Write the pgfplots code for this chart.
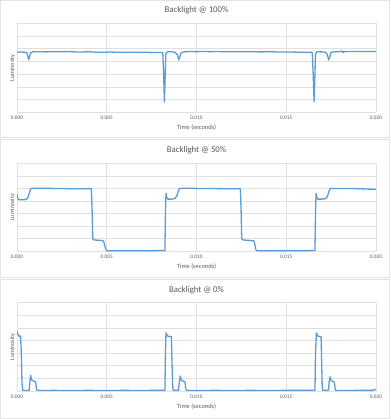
\documentclass[border=0pt]{standalone}
\usepackage{fontspec}
\setmainfont{Carlito}
\usepackage{pgfplots}
\pgfplotsset{compat=1.18}
\definecolor{txt}{HTML}{595959}
\definecolor{grd}{HTML}{E0E0E0}
\definecolor{frm}{HTML}{E3E3E3}
\definecolor{ln}{HTML}{5B9BD5}
\pgfplotsset{
  panel/.style={
    width=359pt, scale only axis,
    xmin=0, xmax=0.02, ymin=0, ymax=7,
    xtick={0,0.005,0.01,0.015,0.02},
    ytick={0,1,2,3,4,5,6,7},
    yticklabels={},
    grid=major,
    grid style={grd, line width=0.55pt},
    axis line style={draw=none},
    major tick length=0pt,
    scaled x ticks=false,
    every axis title shift=0pt,
    xticklabel style={/pgf/number format/.cd, fixed, fixed zerofill, precision=3, /pgf/number format/assume math mode=true, /tikz/.cd, font=\fontsize{5.3}{6}\selectfont, text=txt, anchor=north, inner sep=0pt, yshift=-3.8pt},
    xlabel={Time (seconds)},
    xlabel style={at={(axis description cs:0.5,0)}, anchor=center, yshift=-15.8pt, font=\fontsize{6.4}{7}\selectfont, text=txt},
    ylabel={Luminosity},
    ylabel style={at={(axis description cs:-0.0125,0.5)}, anchor=center, font=\fontsize{6}{7}\selectfont, text=txt},
    title style={at={(axis description cs:0.5,1)}, anchor=center, yshift=12.7pt, font=\fontsize{8.8}{10}\selectfont, text=txt},
  },
  sig/.style={draw=ln, line width=1.3pt, mark=none, line join=round},
}
\begin{document}
\begin{tikzpicture}[x=1pt,y=1pt]
\path[use as bounding box] (0,0) rectangle (390,419);
\draw[frm, line width=0.6pt] (0.5,281.5) rectangle (389.5,418.5);
\draw[frm, line width=0.6pt] (0.5,141.5) rectangle (389.5,279.5);
\draw[frm, line width=0.6pt] (0.5,0.5) rectangle (389.5,139.5);

\begin{axis}[panel, at={(17pt,306.7pt)}, anchor=south west, height=89pt, title={Backlight @ 100\%}]
\addplot[sig] coordinates {(0,4.72)(0.0002,4.74)(0.0004,4.73)(0.00054,4.7)(0.0006,4.45)(0.00065,4.12)(0.0007,4.35)(0.00076,4.68)(0.0009,4.76)(0.0012,4.77)(0.0016,4.75)(0.002,4.77)(0.0024,4.76)(0.0028,4.78)(0.0032,4.75)(0.0036,4.74)(0.004,4.76)(0.0044,4.73)(0.0048,4.72)(0.0052,4.74)(0.0056,4.72)(0.006,4.71)(0.0064,4.73)(0.0068,4.71)(0.0072,4.72)(0.0076,4.70)(0.0080,4.70)(0.00812,4.68)(0.00817,3.0)(0.00821,0.84)(0.00825,2.6)(0.00829,4.6)(0.0084,4.77)(0.0086,4.76)(0.0088,4.72)(0.00895,4.5)(0.0090,4.12)(0.00906,4.3)(0.00914,4.68)(0.0093,4.75)(0.0096,4.78)(0.010,4.77)(0.0104,4.78)(0.0108,4.77)(0.0112,4.78)(0.0116,4.76)(0.012,4.77)(0.0124,4.76)(0.0128,4.77)(0.0132,4.76)(0.0136,4.75)(0.014,4.76)(0.0144,4.75)(0.0148,4.74)(0.0152,4.74)(0.0156,4.73)(0.016,4.73)(0.0164,4.72)(0.01645,4.68)(0.0165,3.0)(0.01655,0.84)(0.01659,2.6)(0.01663,4.6)(0.0167,4.76)(0.0170,4.75)(0.0172,4.72)(0.0173,4.5)(0.01736,4.12)(0.01742,4.3)(0.01748,4.68)(0.0176,4.76)(0.0179,4.76)(0.0181,4.82)(0.01815,4.7)(0.0182,4.77)(0.0186,4.78)(0.019,4.78)(0.0195,4.79)(0.02,4.78)};
\end{axis}

\begin{axis}[panel, at={(17pt,167.7pt)}, anchor=south west, height=88pt, title={Backlight @ 50\%}]
\addplot[sig] coordinates {(0,4.55)(0.00004,4.2)(0.0001,4.1)(0.0003,4.1)(0.0005,4.12)(0.0006,4.25)(0.00068,4.6)(0.00076,4.98)(0.0009,5.02)(0.0014,5.02)(0.002,5.0)(0.0026,4.99)(0.0032,4.97)(0.0038,4.98)(0.00414,4.97)(0.00418,3.5)(0.00422,1.0)(0.0043,0.9)(0.0045,0.88)(0.0047,0.86)(0.00482,0.82)(0.00488,0.5)(0.00495,0.15)(0.005,0.05)(0.0055,0.04)(0.006,0.05)(0.0065,0.04)(0.007,0.05)(0.0075,0.05)(0.008,0.06)(0.00824,0.06)(0.00827,3.0)(0.0083,4.62)(0.00834,4.3)(0.0084,4.15)(0.0086,4.15)(0.0088,4.2)(0.0089,4.4)(0.0090,4.85)(0.00908,5.0)(0.0095,5.02)(0.010,5.0)(0.0105,5.0)(0.011,4.99)(0.0115,4.98)(0.012,4.98)(0.01244,4.97)(0.01248,3.5)(0.01252,1.0)(0.0126,0.9)(0.0129,0.87)(0.0132,0.83)(0.01326,0.5)(0.0133,0.15)(0.01336,0.05)(0.014,0.04)(0.0145,0.05)(0.015,0.04)(0.0155,0.05)(0.016,0.05)(0.0166,0.06)(0.01663,3.0)(0.01666,4.62)(0.0167,4.3)(0.01676,4.15)(0.017,4.15)(0.01722,4.2)(0.0173,4.4)(0.0174,4.85)(0.01746,5.0)(0.018,5.0)(0.0185,5.0)(0.019,4.98)(0.0195,4.95)(0.02,4.93)};
\end{axis}

\begin{axis}[panel, at={(17pt,28pt)}, anchor=south west, height=88.3pt, title={Backlight @ 0\%}]
\addplot[sig] coordinates {(0,4.75)(0.00005,4.5)(0.0001,4.35)(0.0002,4.35)(0.00024,3.0)(0.00028,0.6)(0.00032,0.05)(0.0005,0.04)(0.00068,0.06)(0.00072,0.8)(0.00076,1.24)(0.0008,0.95)(0.00084,0.84)(0.00092,0.8)(0.001,0.75)(0.00104,0.7)(0.00108,0.2)(0.00112,0.05)(0.0015,0.04)(0.002,0.05)(0.003,0.04)(0.004,0.05)(0.005,0.04)(0.006,0.05)(0.007,0.04)(0.008,0.06)(0.00824,0.06)(0.00827,3.0)(0.0083,4.62)(0.00835,4.45)(0.0084,4.35)(0.0086,4.3)(0.00863,2.5)(0.00867,0.5)(0.0087,0.05)(0.009,0.05)(0.00904,0.7)(0.0091,1.19)(0.00914,0.9)(0.0092,0.8)(0.0093,0.76)(0.00936,0.71)(0.0094,0.2)(0.00944,0.05)(0.01,0.04)(0.011,0.05)(0.012,0.04)(0.013,0.05)(0.014,0.04)(0.015,0.05)(0.016,0.05)(0.0166,0.06)(0.01663,3.0)(0.01668,4.62)(0.01672,4.45)(0.01677,4.35)(0.01694,4.3)(0.01697,2.5)(0.017,0.5)(0.01703,0.05)(0.01735,0.05)(0.01739,0.7)(0.01744,1.13)(0.01748,0.9)(0.01753,0.8)(0.0176,0.76)(0.01768,0.71)(0.01772,0.2)(0.01776,0.05)(0.018,0.04)(0.019,0.05)(0.0198,0.06)(0.02,0.13)};
\end{axis}
\end{tikzpicture}
\end{document}
